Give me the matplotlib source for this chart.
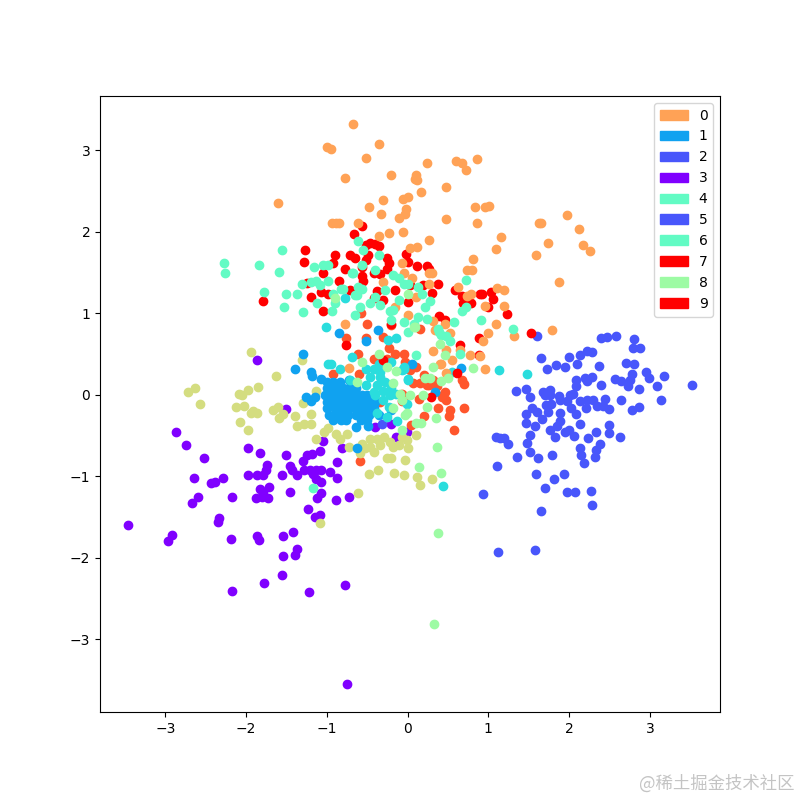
import matplotlib
matplotlib.use('Agg')
import matplotlib.pyplot as plt
import matplotlib.patches as mpatches

# 2D projection of ten digit classes
purple_x = [-2.87, -2.74, -2.52, -1.97, -1.83, -1.50, -1.05, -0.81, -1.09, -1.18, -1.24, -1.29, -0.87, -1.74, -1.75,
            -1.79, -1.86, -1.97, -1.55, -1.45, -1.43, -1.37, -1.28, -1.21, -1.13, -1.07, -0.96, -0.88, -1.17, -1.13,
            -1.07, -2.65, -2.44, -2.39, -2.28, -2.59, -2.67, -2.18, -1.72, -1.83, -1.79, -1.88, -1.80, -1.73, -1.45,
            -1.07, -1.12, -0.89, -0.72, -1.23, -1.15, -1.09, -2.34, -2.35, -3.46, -2.92, -2.97, -2.19, -1.86, -1.84,
            -1.54, -1.42, -1.37, -1.39, -1.54, -1.55, -1.78, -2.18, -1.22, -0.78, -0.75, -1.86, -1.51, -0.01, -0.14,
            -0.40, -0.21]
purple_y = [-0.46, -0.62, -0.78, -0.65, -0.71, -0.74, -0.57, -0.66, -0.69, -0.73, -0.74, -0.81, -0.83, -0.86, -0.93,
            -0.98, -0.98, -0.99, -0.98, -0.88, -0.93, -0.99, -0.93, -0.93, -0.92, -0.93, -0.95, -1.02, -0.97, -1.04,
            -1.07, -1.02, -1.08, -1.07, -1.02, -1.25, -1.33, -1.26, -1.13, -1.16, -1.19, -1.27, -1.25, -1.27, -1.20,
            -1.21, -1.27, -1.29, -1.26, -1.40, -1.50, -1.48, -1.51, -1.56, -1.60, -1.72, -1.80, -1.77, -1.74, -1.78,
            -1.74, -1.68, -1.89, -1.97, -1.98, -2.21, -2.31, -2.41, -2.42, -2.33, -3.55, 0.43, -0.18, -0.46, -0.52,
            -0.40, -0.36]

blue_x = [1.60, 2.40, 2.47, 2.58, 2.80, 2.79, 2.88, 1.65, 2.00, 2.14, 2.22, 2.28, 2.10, 1.84, 1.73, 1.95, 2.37, 2.71,
          2.80, 2.95, 3.17, 3.52, 2.57, 2.64, 2.78, 2.76, 2.73, 2.99, 3.09, 2.87, 2.39, 2.20, 2.29, 2.22, 2.08, 2.09,
          1.34, 1.47, 1.52, 1.68, 1.76, 1.70, 1.76, 1.88, 2.01, 2.05, 1.97, 1.89, 2.13, 2.22, 2.30, 2.44, 2.64, 3.14,
          2.34, 2.42, 2.49, 2.21, 2.02, 2.09, 2.78, 2.87, 1.72, 1.78, 1.74, 1.89, 1.54, 1.60, 1.47, 1.66, 1.47, 1.58,
          1.89, 1.85, 1.76, 1.83, 1.95, 2.00, 2.06, 2.14, 2.50, 2.49, 2.33, 2.24, 2.63, 1.09, 1.15, 1.20, 1.24, 1.51,
          1.48, 1.52, 1.36, 1.62, 1.79, 2.13, 2.38, 2.33, 2.15, 2.32, 2.18, 1.11, 1.59, 1.94, 1.81, 1.70, 1.98, 2.07,
          2.27, 2.29, 0.94, 1.65, 1.12, 1.58, -0.32]
blue_y = [0.72, 0.69, 0.71, 0.72, 0.68, 0.57, 0.57, 0.45, 0.46, 0.48, 0.53, 0.52, 0.37, 0.36, 0.31, 0.34, 0.35, 0.39,
          0.37, 0.28, 0.23, 0.12, 0.19, 0.17, 0.25, 0.18, 0.10, 0.20, 0.11, 0.07, 0.12, 0.21, 0.22, 0.17, 0.18, 0.10,
          0.04, 0.07, -0.03, 0.03, 0.06, -0.01, -0.01, -0.02, -0.01, 0.01, -0.08, -0.07, -0.08, -0.06, -0.06, -0.05,
          -0.06, -0.06, -0.14, -0.14, -0.18, -0.17, -0.17, -0.24, -0.19, -0.15, -0.13, -0.11, -0.21, -0.22, -0.17,
          -0.21, -0.24, -0.30, -0.35, -0.38, -0.32, -0.39, -0.44, -0.52, -0.46, -0.44, -0.51, -0.36, -0.37, -0.47,
          -0.46, -0.53, -0.52, -0.52, -0.53, -0.53, -0.60, -0.50, -0.59, -0.70, -0.77, -0.78, -0.74, -0.65, -0.60,
          -0.68, -0.74, -0.76, -0.84, -0.88, -0.97, -0.97, -1.04, -1.14, -1.19, -1.19, -1.18, -1.35, -1.22, -1.43,
          -1.93, -1.90, -0.36]

sky_x = [-1.29, -1.40, -1.19, -1.18, -1.07, -1.26, -1.15, -1.19, -0.63, -0.64, -0.49, -0.85, -0.51, -0.37, 0.05, 0.66,
         0.34, -0.72, -0.20,
         -1.00, -0.92, -0.84,
         -1.00, -0.95, -0.88, -0.80, -0.72, -0.64,
         -1.02, -0.95, -0.87, -0.80, -0.72, -0.64, -0.56, -0.50,
         -1.00, -0.92, -0.84, -0.78, -0.70, -0.62, -0.54, -0.46, -0.40,
         -1.00, -0.90, -0.82, -0.74, -0.66, -0.58, -0.50, -0.42,
         -0.97, -0.90, -0.82, -0.74, -0.64, -0.56, -0.48, -0.36,
         -0.92, -0.82, -0.76, -0.58, -0.50]
sky_y = [0.50, 0.31, 0.28, 0.23, 0.19, -0.03, -0.03, -0.08, -0.66, -0.40, -0.39, 0.76, 0.66, 0.79, 0.37, 0.33,
         0.03, 0.18, -0.19,
         0.16, 0.16, 0.16,
         0.08, 0.08, 0.08, 0.08, 0.08, 0.08,
         -0.01, -0.01, -0.01, -0.01, -0.01, -0.01, -0.01, -0.01,
         -0.09, -0.09, -0.09, -0.09, -0.09, -0.09, -0.09, -0.09, -0.09,
         -0.17, -0.17, -0.17, -0.17, -0.17, -0.17, -0.17, -0.17,
         -0.25, -0.25, -0.25, -0.25, -0.25, -0.25, -0.25, -0.25,
         -0.31, -0.31, -0.31, -0.31, -0.31]

turq_x = [-0.98, -0.95, -0.84, -0.69, -0.51, -0.42, -0.36, -0.21, -0.05, -0.71, -0.47, -0.34, -0.51, -0.38, -0.28,
          -0.30, -0.42, -0.22, -0.14, 0.00, -0.30, -0.01, -0.23, -0.13, -0.26, -0.38, -0.34, -0.07, -0.14, 0.44,
          1.13, 1.48, -0.78, -1.01, -0.24, -0.05, 0.00, 0.55, -0.40, -0.20]
turq_y = [0.37, 0.37, 0.32, 0.46, 0.32, 0.32, 0.38, 0.40, 0.32, 0.18, 0.22, 0.22, 0.12, 0.12, 0.16,
          0.05, 0.03, -0.01, 0.01, 0.19, -0.07, -0.11, -0.15, -0.32, -0.28, -0.23, 0.28, 0.30, 0.69, -1.12,
          0.30, 0.25, 1.18, 0.83, 0.67, 0.34, 0.18, 0.28, 0.00, 0.08]

aqua_x = [-2.27, -2.26, -1.84, -1.55, -1.59, -1.78, -1.51, -1.37, -1.53, -1.30, -1.31, -1.16, -1.05, -0.98, -1.19,
          -1.13, -0.99, -1.09, -0.92, -0.82, -0.69, -1.12, -0.94, -0.90, -0.65, -0.59, -0.65, -0.57, -0.57, -0.62,
          -0.35, -0.55, -0.40, -0.68, -0.18, -0.11, -0.05, 0.01, 0.13, 0.18, 0.28, 0.22, -0.11, -0.18, -0.22, -0.34,
          -0.47, -0.61, -0.63, -0.80, -0.28, -0.40, -0.05, 0.00, 0.13, 0.24, 0.08, 0.38, 0.42, 0.58, 0.67, 0.72, 0.72,
          0.91, 1.30, -0.20, 0.39, 0.48, 0.53, 0.10, 0.65, -1.17]
aqua_y = [1.61, 1.49, 1.59, 1.77, 1.51, 1.26, 1.24, 1.23, 1.08, 1.01, 1.36, 1.56, 1.59, 1.59, 1.38,
          1.39, 1.40, 1.34, 1.24, 1.30, 1.49, 1.13, 1.02, 1.12, 0.98, 1.08, 1.22, 1.30, 1.59, 1.88,
          1.71, 1.77, 1.53, 1.49, 1.47, 1.43, 1.36, 1.36, 1.32, 1.24, 1.15, 1.07, 1.16, 1.04, 1.02, 1.10,
          1.12, 1.32, 1.22, 1.30, 1.28, 1.20, 0.89, 0.77, 0.95, 0.93, 0.87, 0.81, 0.73, 0.89, 1.02, 1.07, 1.41,
          0.92, 0.80, 0.91, 0.77, 0.72, 0.66, 0.48, 0.50, -1.15]

green_x = [0.37, 0.14, 0.41, 0.35, 0.24, 0.11, 0.17, 0.22, 0.28, -0.07, -0.18, -0.26, -0.36, -0.57, -0.14, -0.07,
           -0.18, -0.01, -0.63, -0.09, 0.33, 0.38, 0.40, 0.46, 0.81, 0.41, 0.32, 0.19, 0.03, 0.50, -0.03, 0.01, 0.09,
           -0.90, 0.08]
green_y = [-0.64, -0.89, -0.96, -0.29, -0.15, -0.35, -0.35, 0.20, 0.21, -0.44, 0.14, 0.34, 0.50, 0.40, 0.29, -0.07,
           -0.17, -0.23, 0.16, 0.01, -2.82, -1.70, 0.62, 0.48, 0.33, 0.17, 0.34, -0.01, -0.01, 0.20, -0.25, 1.24, 0.83,
           1.18, 0.83]

khaki_x = [-1.94, -1.31, -1.63, -2.63, -2.72, -2.565, -2.09, -2.05, -1.97, -1.85, -1.14, -2.12, -2.03, -1.29, -1.92,
           -1.94, -1.86, -1.67, -1.60, -1.54, -1.59, -1.20, -1.39, -2.07, -1.97, -1.37, -1.28, -1.19, -0.98, -1.03,
           -0.89, -0.84, -1.14, -0.75, -0.73, -0.57, -0.47, -0.38, -0.29, -0.22, -0.11, -0.01, 0.10, 0.01, -0.47,
           -0.53, -0.59, -0.42, -0.26, -0.21, -0.03, -0.37, -0.48, -0.17, -0.05, 0.12, 0.30, 0.16, -0.61, -0.18,
           -0.34, -0.07, -1.09]
khaki_y = [0.52, 0.42, 0.23, 0.08, 0.03, -0.11, 0.01, 0.00, 0.06, 0.09, 0.05, -0.15, -0.14, -0.10, -0.20,
           -0.22, -0.23, -0.19, -0.15, -0.24, -0.29, -0.24, -0.26, -0.33, -0.43, -0.39, -0.36, -0.36, -0.41, -0.46,
           -0.48, -0.54, -0.54, -0.48, -0.64, -0.60, -0.54, -0.54, -0.52, -0.58, -0.62, -0.56, -0.50, -0.66, -0.64,
           -0.65, -0.72, -0.70, -0.78, -0.78, -0.80, -0.93, -0.97, -0.96, -0.99, -1.01, -1.03, -1.11, -1.21, -0.64,
           -0.62, -0.52, -1.57]

orange_x = [-0.67, -1.00, -0.95, -0.36, -0.52, 0.24, 0.60, 0.67, 0.72, 0.86, -0.77, -0.20, 0.11, 0.09, 0.12, 0.48,
            0.17, -1.61, -0.48, -0.31, -0.06, 0.01, -0.02, -0.03, -0.11, -0.33, 0.48, 0.84, 0.96, 1.01, 0.86, -0.93,
            -0.89, -0.85, -0.62, -0.36, -0.23, -0.06, 0.27, 0.03, 0.12, 1.16, 1.09, 0.81, 0.74, 0.80, -0.07, -0.04,
            0.26, 0.30, 0.06, 0.27, -0.30, 0.63, 0.79, 0.74, 1.11, 1.20, 1.19, 0.96, 1.10, 0.99, 1.32, 0.01, -0.78,
            0.32, 0.34, 0.46, 0.53, 1.63, 1.59, -0.16, 0.11, 1.98, 1.65, 2.12, 1.74, 2.17, 2.26, 1.87, 1.79, 0.94,
            0.32, 0.48, 0.55, 0.41, 0.48, 0.77, 0.65, 0.96, 0.90, -0.73, 0.40]
orange_y = [3.32, 3.04, 3.01, 3.08, 2.90, 2.84, 2.86, 2.84, 2.75, 2.89, 2.66, 2.69, 2.70, 2.64, 2.63, 2.55,
            2.49, 2.35, 2.30, 2.39, 2.40, 2.42, 2.28, 2.22, 2.17, 2.22, 2.15, 2.30, 2.30, 2.31, 2.10, 2.11,
            2.11, 2.10, 2.11, 1.95, 1.98, 2.00, 1.90, 1.80, 1.81, 1.93, 1.79, 1.66, 1.53, 1.53, 1.61, 1.49,
            1.49, 1.49, 1.43, 1.36, 1.38, 1.32, 1.24, 1.21, 1.31, 1.28, 1.09, 1.09, 0.87, 0.76, 0.72, 0.98, 0.87,
            0.90, 0.79, 0.87, 0.76, 2.11, 1.71, 1.08, 1.20, 2.20, 2.11, 2.03, 1.86, 1.84, 1.76, 1.38, 0.79, 0.66,
            0.53, 0.55, 0.42, 0.38, 0.27, 0.49, 0.55, 0.31, 0.47, 0.33, 0.38]

redorange_x = [-0.76, -0.62, -0.92, -0.60, -0.30, -0.23, -0.51, -0.05, -0.42, -0.26, -0.16, -0.03, 0.11, 0.20, 0.32,
               0.24, 0.36, 0.46, 0.43, 0.48, 0.38, 0.52, 0.51, 0.70, 0.58, 0.67, 0.70, 0.20, 0.14, 0.04, -0.07, -0.07,
               -0.34, -0.59, -0.58, -0.50, -0.21, 0.15, 0.07, 0.15, 0.26, -0.05, 0.44, 0.03]
redorange_y = [0.69, 0.50, 0.25, 0.25, 0.71, 0.57, 0.70, 0.50, 0.44, 0.44, 0.50, 0.40, 0.34, 0.24, 0.18,
               0.12, 0.10, 0.03, -0.03, -0.07, -0.17, -0.19, -0.26, -0.17, -0.43, 0.18, 0.13, -0.26, -0.05, -0.37, 0.01,
               -0.08, -0.09, -0.82, 1.00, 0.87, 0.85, 0.81, 0.14, 0.14, 0.12, -0.03, 0.00, 0.30]

red_x = [-0.56, -0.66, -0.47, -0.40, -0.36, -0.52, -1.27, -1.28, -0.90, -0.92, -0.71, -0.65, -0.49, -0.51, -0.26,
         -0.23, -0.02, 0.00, 0.12, 0.24, 0.26, -0.57, -0.78, -1.05, -0.26, -0.57, -0.55, -0.42, -0.34, -0.85, -1.25,
         -1.07, -0.98, -1.19, -1.79, -1.05, -0.38, -0.16, -0.30, -0.41, -0.71, 0.01, 0.03, 0.19, 0.30, 0.38, 0.59,
         0.67, 0.69, 0.78, 0.90, 0.92, 1.03, 1.06, 0.99, 1.23, 0.39, 0.46, -0.21, 1.53, 0.89, -0.76, 0.65, 0.29,
         -0.30, 0.88, 0.61]
red_y = [2.07, 1.97, 1.86, 1.85, 1.82, 1.83, 1.78, 1.63, 1.71, 1.61, 1.71, 1.68, 1.71, 1.65, 1.67,
         1.62, 1.72, 1.63, 1.58, 1.58, 1.54, 1.57, 1.54, 1.49, 1.54, 1.45, 1.40, 1.49, 1.48, 1.40, 1.37,
         1.26, 1.23, 1.20, 1.15, 1.02, 1.27, 1.28, 1.16, 1.18, 1.28, 1.14, 1.34, 1.34, 1.25, 1.36, 1.28,
         1.21, 1.13, 1.13, 1.23, 1.24, 1.26, 1.17, 1.07, 0.99, 0.96, 0.92, 0.87, 0.76, 0.70, 0.61, 0.61, -0.03,
         0.42, 0.48, 0.27]

# draw order of the classes and their position on the rainbow map
classes = [(purple_x, purple_y, 0), (blue_x, blue_y, 1), (redorange_x, redorange_y, 8), (khaki_x, khaki_y, 6),
           (sky_x, sky_y, 2), (turq_x, turq_y, 3), (red_x, red_y, 9), (orange_x, orange_y, 7),
           (aqua_x, aqua_y, 4), (green_x, green_y, 5)]

legend_labels = ['0', '1', '2', '3', '4', '5', '6', '7', '8', '9']
legend_idx = [7, 2, 1, 0, 4, 1, 4, 9, 5, 9]

plt.figure(figsize=(8, 8), dpi=100)
cmap = plt.get_cmap('rainbow')
for x, y, idx in classes:
    plt.scatter(x, y, color=cmap(idx / 9))

handles = []
for label, idx in zip(legend_labels, legend_idx):
    handles.append(mpatches.Patch(color=cmap(idx / 9), label=label))
plt.legend(handles=handles, loc='upper right')

plt.gcf().text(0.9925, 0.02, '@稀土掘金技术社区', ha='right', va='center', fontsize=12.5,
               color='#c4c4c4', family=['Noto Sans CJK SC', 'DejaVu Sans'])

plt.savefig('out.png', dpi=100)
plt.close()
